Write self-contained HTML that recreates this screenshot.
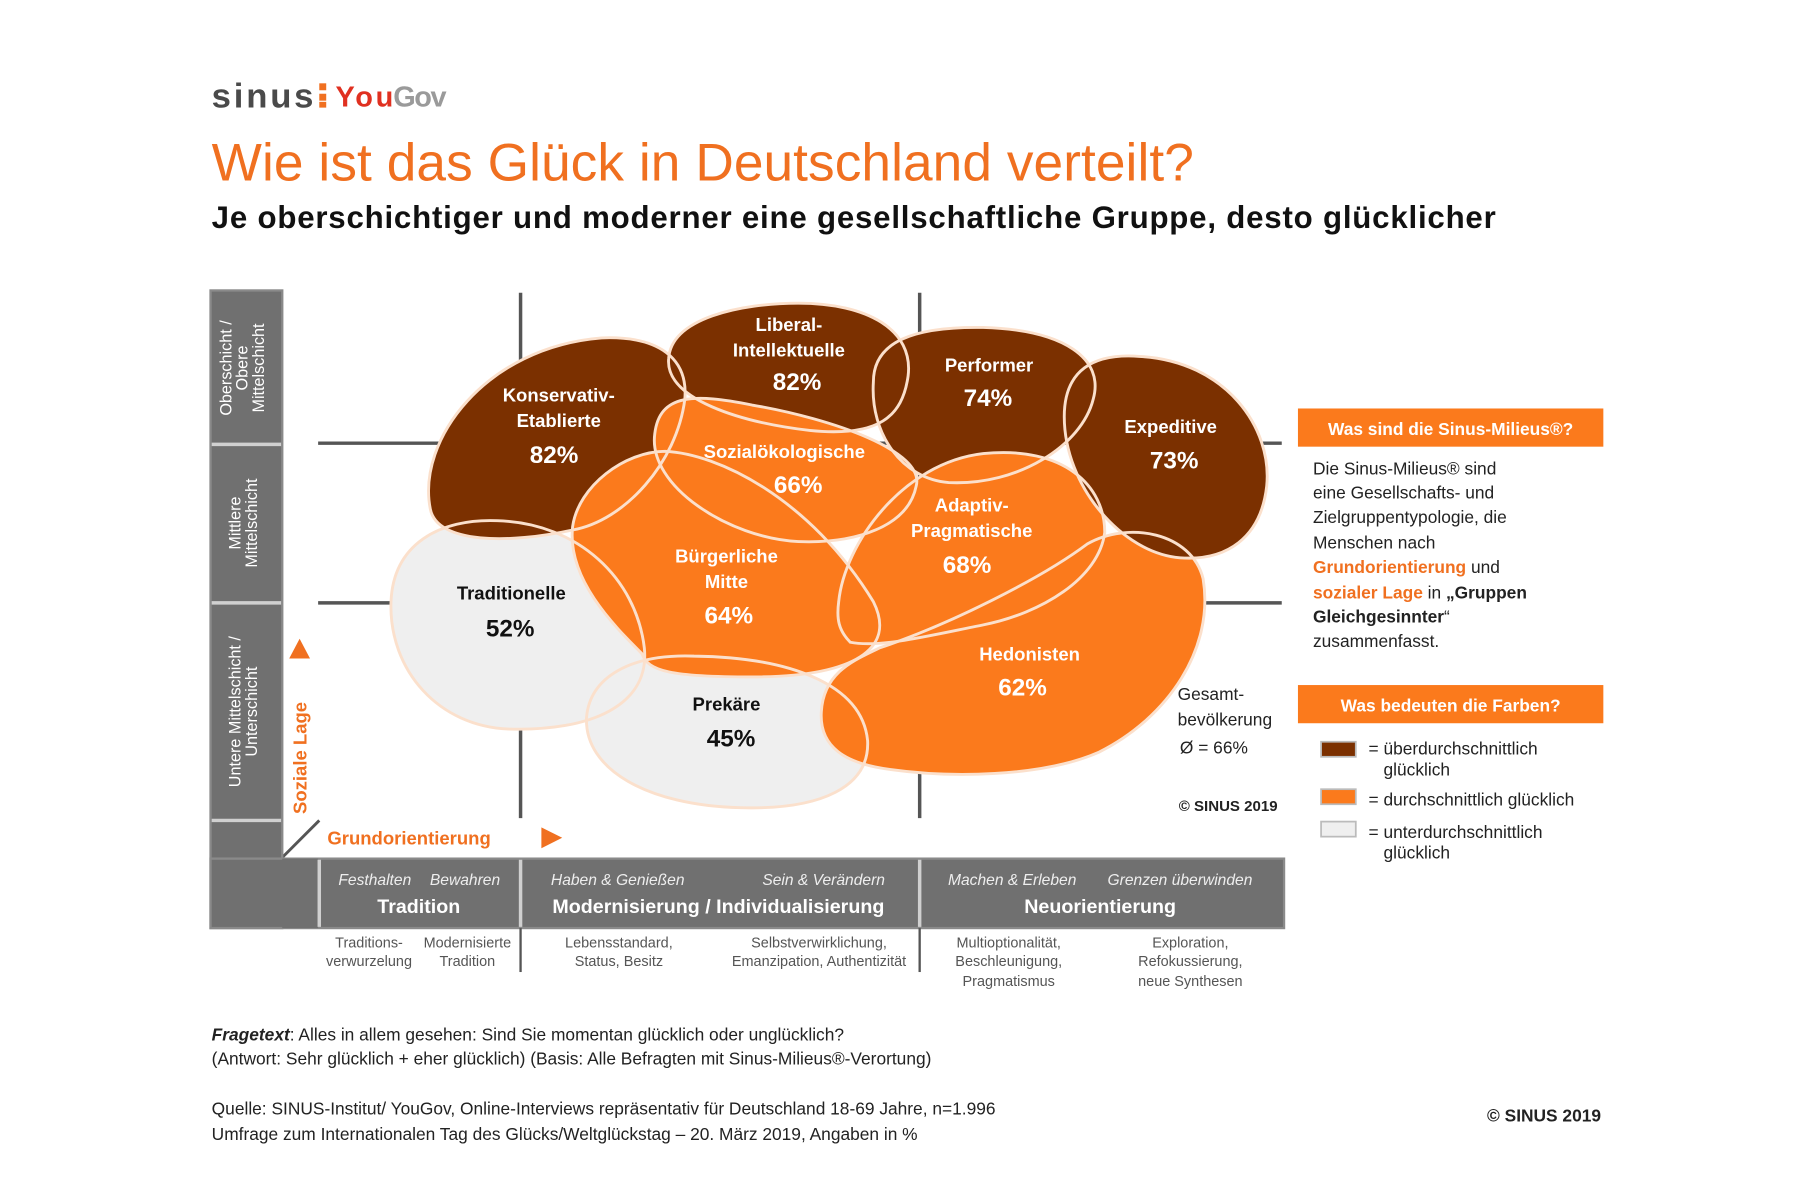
<!DOCTYPE html>
<html><head><meta charset="utf-8"><style>
html,body{margin:0;padding:0;background:#fff;}
svg{display:block;}
text{font-family:"Liberation Sans",sans-serif;}
</style></head><body>
<svg width="1800" height="1200" viewBox="0 0 1556 1037" preserveAspectRatio="none" xmlns="http://www.w3.org/2000/svg">
<defs>
<path id="trad" d="M338,520 C340,470 380,448 430,450 C500,452 550,500 557,560 C562,610 510,632 440,630 C380,628 336,580 338,520 Z"/>
<path id="prek" d="M507,620 C510,585 545,565 600,567 C680,568 745,590 750,640 C752,680 710,700 640,698 C560,696 505,665 507,620 Z"/>
<path id="kons" d="M372,440 C360,380 420,300 520,292 C570,290 595,310 592,345 C585,400 540,450 495,458 C440,470 378,470 372,440 Z"/>
<path id="lib" d="M578,310 C580,275 640,262 690,262 C750,262 790,285 785,325 C780,360 760,378 700,372 C640,365 575,345 578,310 Z"/>
<path id="perf" d="M755,330 C755,295 790,282 850,283 C920,285 955,310 945,345 C935,385 880,420 820,417 C780,414 752,375 755,330 Z"/>
<path id="hed" d="M710,615 C712,580 740,570 760,560 C820,540 900,500 940,470 C975,450 1030,460 1040,500 C1050,560 1010,620 950,650 C900,672 820,672 770,665 C730,660 708,645 710,615 Z"/>
<path id="buerg" d="M495,455 C500,420 540,390 575,390 C620,392 700,430 755,520 C775,560 740,585 650,585 C580,585 560,580 555,565 C530,540 490,500 495,455 Z"/>
<path id="adap" d="M725,520 C730,470 780,400 850,392 C920,385 955,420 955,460 C950,500 900,530 850,540 C800,550 760,560 735,555 C725,545 723,535 725,520 Z"/>
<path id="soz" d="M566,375 C570,340 600,340 650,350 C720,362 800,390 792,420 C785,455 740,470 690,468 C630,465 560,420 566,375 Z"/>
<path id="exp" d="M920,360 C920,320 945,305 985,308 C1060,312 1100,370 1095,420 C1090,465 1060,485 1020,482 C970,478 920,420 920,360 Z"/>
</defs>
<rect width="1556" height="1037" fill="#fff"/>
<!-- logo -->
<text x="183" y="93" font-size="30" font-weight="bold" fill="#4a4a4a" textLength="88">sinus</text>
<rect x="276" y="72" width="6" height="6" fill="#f07020"/><rect x="276" y="81" width="6" height="6" fill="#f07020"/><rect x="276" y="88" width="6" height="5" fill="#f07020"/>
<text x="290" y="92" font-size="25" font-weight="bold" fill="#e03020" textLength="50">You</text>
<text x="340" y="92" font-size="25" font-weight="bold" fill="#9a9a9a" textLength="46">Gov</text>
<!-- titles -->
<text x="183" y="156" font-size="46" fill="#f07020" textLength="849">Wie ist das Glück in Deutschland verteilt?</text>
<text x="183" y="197" font-size="27" font-weight="bold" fill="#111" textLength="1110">Je oberschichtiger und moderner eine gesellschaftliche Gruppe, desto glücklicher</text>

<!-- grid lines -->
<g stroke="#555" stroke-width="3">
<line x1="275" y1="383" x2="1108" y2="383"/>
<line x1="275" y1="521" x2="1108" y2="521"/>
<line x1="450" y1="253" x2="450" y2="707"/>
<line x1="795" y1="253" x2="795" y2="707"/>
<line x1="244" y1="741" x2="276" y2="709" stroke-width="2.5"/>
</g>

<!-- left axis -->
<rect x="182" y="251" width="62" height="551" fill="#707070"/>
<rect x="182" y="251" width="62" height="551" fill="none" stroke="#8a8a8a" stroke-width="2"/>
<g stroke="#d0d0d0" stroke-width="3"><line x1="183" y1="384" x2="243" y2="384"/><line x1="183" y1="521" x2="243" y2="521"/><line x1="183" y1="709" x2="243" y2="709"/></g>
<g fill="#fff" font-size="14" text-anchor="middle">
<text transform="translate(200,318) rotate(-90)">Oberschicht /</text>
<text transform="translate(214,318) rotate(-90)">Obere</text>
<text transform="translate(228,318) rotate(-90)">Mittelschicht</text>
<text transform="translate(208,452) rotate(-90)">Mittlere</text>
<text transform="translate(222,452) rotate(-90)">Mittelschicht</text>
<text transform="translate(208,615) rotate(-90)">Untere Mittelschicht /</text>
<text transform="translate(222,615) rotate(-90)">Unterschicht</text>
</g>
<!-- bottom bar -->
<rect x="182" y="742" width="928" height="60" fill="#707070" stroke="#8a8a8a" stroke-width="2"/>
<rect x="244" y="742" width="31" height="60" fill="#707070"/>
<g stroke="#d0d0d0" stroke-width="3"><line x1="276" y1="743" x2="276" y2="801"/><line x1="450" y1="743" x2="450" y2="801"/><line x1="795" y1="743" x2="795" y2="801"/></g>
<g stroke="#555" stroke-width="2"><line x1="450" y1="802" x2="450" y2="840"/><line x1="795" y1="802" x2="795" y2="840"/></g>
<g fill="#eee" font-size="13.5" font-style="italic" text-anchor="middle">
<text x="324" y="765">Festhalten</text><text x="402" y="765">Bewahren</text>
<text x="534" y="765">Haben &amp; Genießen</text><text x="712" y="765">Sein &amp; Verändern</text>
<text x="875" y="765">Machen &amp; Erleben</text><text x="1020" y="765">Grenzen überwinden</text>
</g>
<g fill="#fff" font-size="17" font-weight="bold" text-anchor="middle">
<text x="362" y="789">Tradition</text>
<text x="621" y="789">Modernisierung / Individualisierung</text>
<text x="951" y="789">Neuorientierung</text>
</g>
<g fill="#555" font-size="12.5" text-anchor="middle">
<text x="319" y="819">Traditions-</text><text x="319" y="835">verwurzelung</text>
<text x="404" y="819">Modernisierte</text><text x="404" y="835">Tradition</text>
<text x="535" y="819">Lebensstandard,</text><text x="535" y="835">Status, Besitz</text>
<text x="708" y="819">Selbstverwirklichung,</text><text x="708" y="835">Emanzipation, Authentizität</text>
<text x="872" y="819">Multioptionalität,</text><text x="872" y="835">Beschleunigung,</text><text x="872" y="852">Pragmatismus</text>
<text x="1029" y="819">Exploration,</text><text x="1029" y="835">Refokussierung,</text><text x="1029" y="852">neue Synthesen</text>
</g>
<!-- axis labels -->
<polygon points="250,569 259,552 268,569" fill="#f07020"/>
<text transform="translate(265,655) rotate(-90)" font-size="16" font-weight="bold" fill="#f07020" text-anchor="middle">Soziale Lage</text>
<text x="283" y="730" font-size="16" font-weight="bold" fill="#f07020">Grundorientierung</text>
<polygon points="468,715 486,724 468,733" fill="#f07020"/>

<!-- blob fills -->
<use href="#trad" fill="#efefef"/>
<use href="#prek" fill="#efefef"/>
<use href="#kons" fill="#7b3000"/>
<use href="#lib" fill="#7b3000"/>
<use href="#perf" fill="#7b3000"/>
<use href="#hed" fill="#fb7a1c"/>
<use href="#buerg" fill="#fb7a1c"/>
<use href="#adap" fill="#fb7a1c"/>
<use href="#soz" fill="#fb7a1c"/>
<use href="#exp" fill="#7b3000"/>
<!-- outlines on top -->
<g fill="none" stroke="#fbe0cc" stroke-width="2.5">
<use href="#trad"/><use href="#prek"/><use href="#kons"/><use href="#lib"/><use href="#perf"/><use href="#hed"/><use href="#buerg"/><use href="#adap"/><use href="#soz"/><use href="#exp"/>
</g>
<!-- blob labels -->
<g font-weight="bold" text-anchor="middle" fill="#fff">
<g font-size="16"><text x="483" y="347">Konservativ-</text><text x="483" y="369">Etablierte</text></g><text x="479" y="400" font-size="21">82%</text>
<g font-size="16"><text x="682" y="286">Liberal-</text><text x="682" y="308">Intellektuelle</text></g><text x="689" y="337" font-size="21">82%</text>
<text x="855" y="321" font-size="16">Performer</text><text x="854" y="351" font-size="21">74%</text>
<text x="1012" y="374" font-size="16">Expeditive</text><text x="1015" y="405" font-size="21">73%</text>
<text x="678" y="396" font-size="16">Sozialökologische</text><text x="690" y="426" font-size="21">66%</text>
<g font-size="16"><text x="628" y="486">Bürgerliche</text><text x="628" y="508">Mitte</text></g><text x="630" y="539" font-size="21">64%</text>
<g font-size="16"><text x="840" y="442">Adaptiv-</text><text x="840" y="464">Pragmatische</text></g><text x="836" y="495" font-size="21">68%</text>
<text x="890" y="571" font-size="16">Hedonisten</text><text x="884" y="601" font-size="21">62%</text>
<g fill="#111"><text x="442" y="518" font-size="16">Traditionelle</text><text x="441" y="550" font-size="21">52%</text>
<text x="628" y="614" font-size="16">Prekäre</text><text x="632" y="645" font-size="21">45%</text></g>
</g>
<g font-size="15" fill="#222"><text x="1018" y="605">Gesamt-</text><text x="1018" y="627">bevölkerung</text><text x="1020" y="651">Ø = 66%</text></g>
<text x="1019" y="701" font-size="13" font-weight="bold" fill="#222">© SINUS 2019</text>

<!-- right panel -->
<rect x="1122" y="353" width="264" height="33" fill="#fb7a1c"/>
<text x="1254" y="376" font-size="15" font-weight="bold" fill="#fff" text-anchor="middle">Was sind die Sinus-Milieus®?</text>
<g font-size="15" fill="#222">
<text x="1135" y="410">Die Sinus-Milieus® sind</text>
<text x="1135" y="431">eine Gesellschafts- und</text>
<text x="1135" y="452">Zielgruppentypologie, die</text>
<text x="1135" y="474">Menschen nach</text>
<text x="1135" y="495"><tspan fill="#f07020" font-weight="bold">Grundorientierung</tspan> und</text>
<text x="1135" y="517"><tspan fill="#f07020" font-weight="bold">sozialer Lage</tspan> in <tspan font-weight="bold">„Gruppen</tspan></text>
<text x="1135" y="538" font-weight="bold">Gleichgesinnter<tspan font-weight="normal">“</tspan></text>
<text x="1135" y="559">zusammenfasst.</text>
</g>
<rect x="1122" y="592" width="264" height="33" fill="#fb7a1c"/>
<text x="1254" y="615" font-size="15" font-weight="bold" fill="#fff" text-anchor="middle">Was bedeuten die Farben?</text>
<rect x="1142" y="641" width="30" height="13" fill="#7b3000" stroke="#bbb" stroke-width="1.5"/>
<rect x="1142" y="682" width="30" height="13" fill="#fb7a1c" stroke="#bbb" stroke-width="1.5"/>
<rect x="1142" y="710" width="30" height="13" fill="#efefef" stroke="#bbb" stroke-width="1.5"/>
<g font-size="15" fill="#222">
<text x="1183" y="652">= überdurchschnittlich</text><text x="1196" y="670">glücklich</text>
<text x="1183" y="696">= durchschnittlich glücklich</text>
<text x="1183" y="724">= unterdurchschnittlich</text><text x="1196" y="742">glücklich</text>
</g>

<!-- footer -->
<g font-size="15" fill="#222">
<text x="183" y="899"><tspan font-weight="bold" font-style="italic">Fragetext</tspan>: Alles in allem gesehen: Sind Sie momentan glücklich oder unglücklich?</text>
<text x="183" y="920">(Antwort: Sehr glücklich + eher glücklich) (Basis: Alle Befragten mit Sinus-Milieus®-Verortung)</text>
<text x="183" y="963">Quelle: SINUS-Institut/ YouGov, Online-Interviews repräsentativ für Deutschland 18-69 Jahre, n=1.996</text>
<text x="183" y="985">Umfrage zum Internationalen Tag des Glücks/Weltglückstag – 20. März 2019, Angaben in %</text>
</g>
<text x="1384" y="969" font-size="15" font-weight="bold" fill="#222" text-anchor="end">© SINUS 2019</text>
</svg>
</body></html>
